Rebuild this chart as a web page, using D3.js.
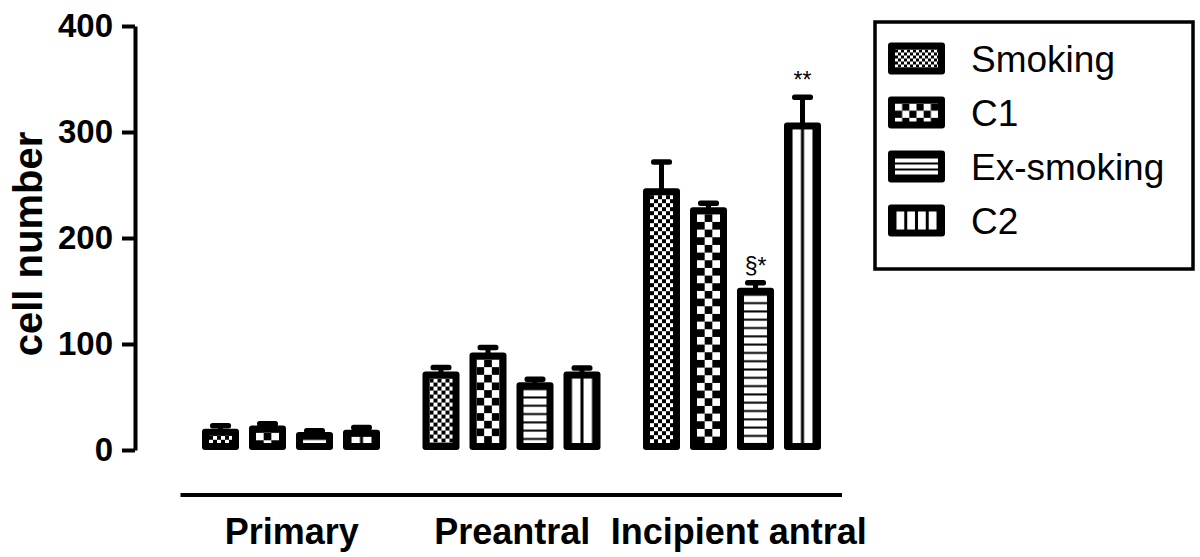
<!DOCTYPE html>
<html>
<head>
<meta charset="utf-8">
<script src="https://cdn.jsdelivr.net/npm/d3@7"></script>
<style>
  body { margin: 0; background: #fff; }
  svg { display: block; font-family: "Liberation Sans", Arial, sans-serif; }
</style>
</head>
<body>
<div id="chart"></div>
<script>
// follicle stages on the x axis, one bar per exposure group
const groups = ["Primary", "Preantral", "Incipient antral"];
const series = ["Smoking", "C1", "Ex-smoking", "C2"];
const patternType = ["fine", "check", "hlines", "vlines"];

// mean cell number and SEM, in series order
const means = {
  "Primary": [20, 23, 17, 19],
  "Preantral": [74, 92, 64, 74],
  "Incipient antral": [247, 229, 153, 309],
};
const sems = {
  "Primary": [3, 2, 1.5, 2.5],
  "Preantral": [4, 5, 3, 3.5],
  "Incipient antral": [25, 4, 5, 24],
};
const yTicks = [0, 100, 200, 300, 400];
const annotations = [
  { group: "Incipient antral", series: "Ex-smoking", text: "§*" },
  { group: "Incipient antral", series: "C2", text: "**" },
];

const width = 1200, height = 557;

const svg = d3.select("#chart").append("svg")
  .attr("width", width)
  .attr("height", height)
  .attr("viewBox", [0, 0, width, height]);

const defs = svg.append("defs");

const y = d3.scaleLinear().domain([0, 400]).range([450, 26]);

const x0 = d3.scaleBand().domain(groups).range([180.5, 842]);
const x1 = d3.scaleBand().domain(series).range([21.5, 199.5]).paddingInner(10 / 47);

// pattern anchored to the inner box (x, y, w, h) so stripes line up with the bar
let patCount = 0;
function makePattern(type, bx, by, bw, bh, legend) {
  const id = "pat-" + (++patCount);
  const p = defs.append("pattern").attr("id", id).attr("patternUnits", "userSpaceOnUse");
  if (type === "fine") {
    const c = legend ? 3 : 4;
    p.attr("x", bx).attr("y", by).attr("width", 2 * c).attr("height", 2 * c);
    p.append("rect").attr("width", 2 * c).attr("height", 2 * c).attr("fill", "#fff");
    p.append("rect").attr("width", c).attr("height", c).attr("fill", "#000");
    p.append("rect").attr("x", c).attr("y", c).attr("width", c).attr("height", c).attr("fill", "#000");
  } else if (type === "check") {
    const c = legend ? bw / 6 : bw / 3;
    p.attr("x", bx).attr("y", by).attr("width", 2 * c).attr("height", 2 * c);
    p.append("rect").attr("width", 2 * c).attr("height", 2 * c).attr("fill", "#fff");
    p.append("rect").attr("x", c).attr("width", c).attr("height", c).attr("fill", "#000");
    p.append("rect").attr("y", c).attr("width", c).attr("height", c).attr("fill", "#000");
  } else if (type === "hlines") {
    const per = legend ? bh / 3 : 8.3;
    p.attr("x", bx).attr("y", by - per / 2).attr("width", 10).attr("height", per);
    p.append("rect").attr("width", 10).attr("height", per).attr("fill", "#fff");
    p.append("rect").attr("y", per / 2 - 1).attr("width", 10).attr("height", 2).attr("fill", "#000");
  } else {
    const per = legend ? bw / 4 : bw / 2;
    p.attr("x", bx - per / 2).attr("y", by).attr("width", per).attr("height", 10);
    p.append("rect").attr("width", per).attr("height", 10).attr("fill", "#fff");
    p.append("rect").attr("x", per / 2 - 1.5).attr("width", 3).attr("height", 10).attr("fill", "#000");
  }
  return "url(#" + id + ")";
}

const inset = 7;

function drawBox(g, bx, by, bw, bh, type, legend) {
  g.append("rect")
    .attr("x", bx).attr("y", by)
    .attr("width", bw).attr("height", bh)
    .attr("rx", 3)
    .attr("fill", "#000");
  const iw = bw - 2 * inset, ih = bh - 2 * inset;
  if (iw > 0 && ih > 0) {
    g.append("rect")
      .attr("x", bx + inset).attr("y", by + inset)
      .attr("width", iw).attr("height", ih)
      .attr("fill", makePattern(type, bx + inset, by + inset, iw, ih, legend));
  }
}

// bars with error bars
const rows = [];
groups.forEach(gName => series.forEach((s, i) => {
  rows.push({ group: gName, series: s, i, mean: means[gName][i], sem: sems[gName][i] });
}));

const barG = svg.append("g");
rows.forEach(d => {
  const bx = x0(d.group) + x1(d.series);
  const bw = x1.bandwidth();
  const cx = bx + bw / 2;
  const g = barG.append("g");
  // error bar (upper half only, as in the original)
  g.append("rect")
    .attr("x", cx - 2.5).attr("y", y(d.mean + d.sem))
    .attr("width", 5).attr("height", y(d.mean) - y(d.mean + d.sem) + 2)
    .attr("fill", "#000");
  g.append("rect")
    .attr("x", cx - 10.5).attr("y", y(d.mean + d.sem) - 2.5)
    .attr("width", 21).attr("height", 5.5)
    .attr("rx", 2.5)
    .attr("fill", "#000");
  drawBox(g, bx, y(d.mean), bw, y(0) - y(d.mean), patternType[d.i], false);
});

// significance marks
annotations.forEach(a => {
  const i = series.indexOf(a.series);
  const cx = x0(a.group) + x1(a.series) + x1.bandwidth() / 2;
  svg.append("text")
    .attr("x", cx)
    .attr("y", y(means[a.group][i] + sems[a.group][i]) - 9)
    .attr("text-anchor", "middle")
    .attr("font-size", 23)
    .text(a.text);
});

// y axis
const yAxis = svg.append("g")
  .attr("transform", "translate(135,0)")
  .call(d3.axisLeft(y).tickValues(yTicks).tickSize(13).tickSizeOuter(0).tickPadding(9));
yAxis.select(".domain").attr("stroke-width", 4).attr("stroke", "#000");
yAxis.selectAll(".tick line").attr("stroke-width", 4).attr("stroke", "#000");
yAxis.selectAll(".tick text")
  .attr("font-size", 33)
  .attr("font-weight", "bold")
  .attr("font-family", "'Liberation Sans', Arial, sans-serif")
  .attr("fill", "#000");

svg.append("text")
  .attr("transform", "translate(42,244) rotate(-90)")
  .attr("text-anchor", "middle")
  .attr("font-size", 40)
  .attr("font-weight", "bold")
  .text("cell number");

// x axis: detached baseline with group labels below
svg.append("line")
  .attr("x1", x0.range()[0]).attr("x2", x0.range()[1])
  .attr("y1", 495).attr("y2", 495)
  .attr("stroke", "#000").attr("stroke-width", 4);

svg.append("g").selectAll("text")
  .data(groups)
  .join("text")
  .attr("x", d => x0(d) + x0.bandwidth() / 2 + (d === "Incipient antral" ? 7 : 1))
  .attr("y", 544)
  .attr("text-anchor", "middle")
  .attr("font-size", 36)
  .attr("font-weight", "bold")
  .text(d => d);

// legend
const legend = svg.append("g");
legend.append("rect")
  .attr("x", 875).attr("y", 22)
  .attr("width", 318).attr("height", 247)
  .attr("fill", "#fff").attr("stroke", "#000").attr("stroke-width", 3.5);

series.forEach((s, i) => {
  const cy = 58.5 + i * 54;
  drawBox(legend, 888, cy - 16, 57, 32, patternType[i], true);
  legend.append("text")
    .attr("x", 971).attr("y", cy + 13)
    .attr("font-size", 37)
    .text(s);
});
</script>
</body>
</html>
